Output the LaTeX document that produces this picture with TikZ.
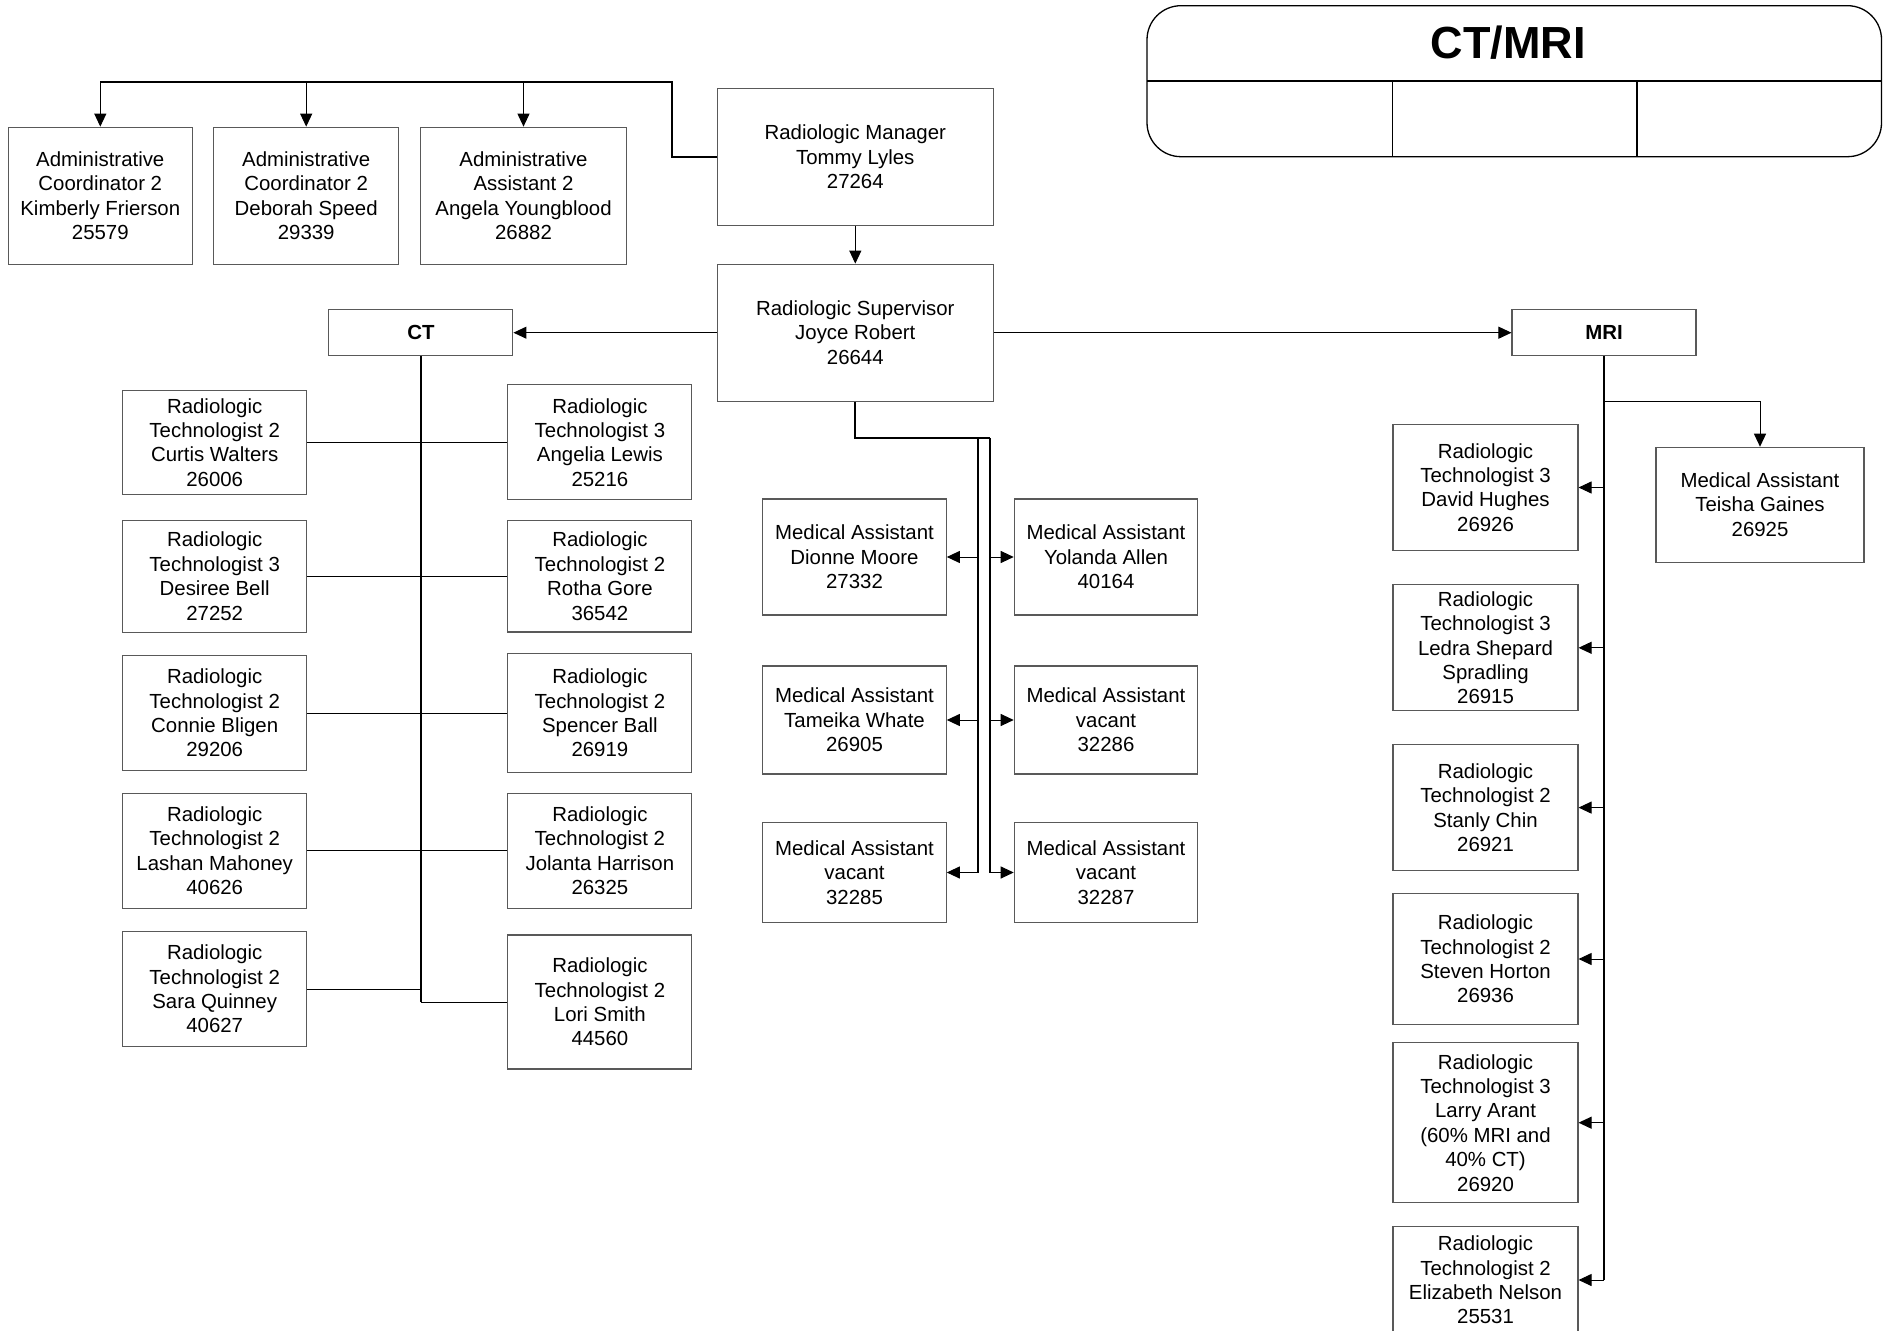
\documentclass[tikz,border=0pt]{standalone}
\usepackage{fontspec}
\setmainfont{Liberation Sans}
\usetikzlibrary{arrows.meta}
\newcommand\orgfont{\fontsize{10.2pt}{12.2pt}\selectfont}
\tikzset{
    box/.style={draw=black!65,line width=0.55pt,align=center,inner sep=0pt,font=\orgfont},
    headbox/.style={box,minimum width=137.75pt,minimum height=68.5pt},
    unitbox/.style={box,minimum width=92pt,minimum height=23pt,font=\orgfont\bfseries},
    ctbox/.style={box,minimum width=92pt},
    mabox/.style={box,minimum width=91.75pt},
    mribox/.style={box,minimum width=92.5pt},
    trunk/.style={line width=1pt},
    branch/.style={line width=0.5pt},
    arr/.style={-{Triangle[length=6.5pt,width=6pt]}}
}
\begin{document}
\begin{tikzpicture}[x=0.5pt,y=-0.5pt]
    \useasboundingbox (0,0) rectangle (1883,1331);
    \clip (0,0) rectangle (1883,1331);

    % legend
    \draw[line width=0.65pt,rounded corners=17pt] (1147,5.7) rectangle (1881.5,156.7);
    \draw[line width=0.65pt] (1147,81) -- (1881.5,81)
        (1392.6,81) -- (1392.6,156.7)
        (1637,81) -- (1637,156.7);
    \node(title) at (1508,43) {\fontsize{22.5pt}{27pt}\bfseries CT/MRI};

    % top
    \node(adm1)[box,minimum width=91.85pt,minimum height=68.5pt] at (100.3,195.7)
        {Administrative\\Coordinator 2\\Kimberly Frierson\\25579};
    \node(adm2)[box,minimum width=92.5pt,minimum height=68.5pt] at (306.2,195.7)
        {Administrative\\Coordinator 2\\Deborah Speed\\29339};
    \node(adm3)[box,minimum width=102.75pt,minimum height=68.5pt] at (523.5,195.7)
        {Administrative\\Assistant 2\\Angela Youngblood\\26882};
    \node(manager)[headbox] at (855.3,156.8) {Radiologic Manager\\Tommy Lyles\\27264};
    \node(supervisor)[headbox] at (855.3,332.7) {Radiologic Supervisor\\Joyce Robert\\26644};
    \node(ct)[unitbox] at (420.9,332.7) {CT};
    \node(mri)[unitbox] at (1604,332.7) {MRI};

    % CT staff
    \node(ctL1)[ctbox,minimum height=51.75pt] at (214.7,442.4) {Radiologic\\Technologist 2\\Curtis Walters\\26006};
    \node(ctL2)[ctbox,minimum height=56pt] at (214.7,576.2) {Radiologic\\Technologist 3\\Desiree Bell\\27252};
    \node(ctL3)[ctbox,minimum height=57.5pt] at (214.7,713) {Radiologic\\Technologist 2\\Connie Bligen\\29206};
    \node(ctL4)[ctbox,minimum height=57.25pt] at (214.7,850.8) {Radiologic\\Technologist 2\\Lashan Mahoney\\40626};
    \node(ctL5)[ctbox,minimum height=57.5pt] at (214.7,989) {Radiologic\\Technologist 2\\Sara Quinney\\40627};
    \node(ctR1)[ctbox,minimum height=57.5pt] at (599.9,442.4) {Radiologic\\Technologist 3\\Angelia Lewis\\25216};
    \node(ctR2)[ctbox,minimum height=55.75pt] at (599.9,576.2) {Radiologic\\Technologist 2\\Rotha Gore\\36542};
    \node(ctR3)[ctbox,minimum height=59.5pt] at (599.9,713) {Radiologic\\Technologist 2\\Spencer Ball\\26919};
    \node(ctR4)[ctbox,minimum height=57.25pt] at (599.9,850.8) {Radiologic\\Technologist 2\\Jolanta Harrison\\26325};
    \node(ctR5)[ctbox,minimum height=67pt] at (599.9,1002) {Radiologic\\Technologist 2\\Lori Smith\\44560};

    % medical assistants
    \node(maL1)[mabox,minimum height=58pt] at (854.5,557) {Medical Assistant\\Dionne Moore\\27332};
    \node(maL2)[mabox,minimum height=54pt] at (854.5,720) {Medical Assistant\\Tameika Whate\\26905};
    \node(maL3)[mabox,minimum height=50pt] at (854.5,872.5) {Medical Assistant\\vacant\\32285};
    \node(maR1)[mabox,minimum height=58pt] at (1106,557) {Medical Assistant\\Yolanda Allen\\40164};
    \node(maR2)[mabox,minimum height=54pt] at (1106,720) {Medical Assistant\\vacant\\32286};
    \node(maR3)[mabox,minimum height=50pt] at (1106,872.5) {Medical Assistant\\vacant\\32287};

    % MRI staff
    \node(mri1)[mribox,minimum height=63.2pt] at (1485.5,487.5) {Radiologic\\Technologist 3\\David Hughes\\26926};
    \node(mri2)[mribox,minimum height=62.9pt] at (1485.5,647.8) {Radiologic\\Technologist 3\\Ledra Shepard\\Spradling\\26915};
    \node(mri3)[mribox,minimum height=63pt] at (1485.5,807.6) {Radiologic\\Technologist 2\\Stanly Chin\\26921};
    \node(mri4)[mribox,minimum height=65.5pt] at (1485.5,959) {Radiologic\\Technologist 2\\Steven Horton\\26936};
    \node(mri5)[mribox,minimum height=80pt] at (1485.5,1122.7) {Radiologic\\Technologist 3\\Larry Arant\\(60\% MRI and\\40\% CT)\\26920};
    \node(mri6)[mribox,minimum height=53.5pt] at (1485.5,1280) {Radiologic\\Technologist 2\\Elizabeth Nelson\\25531};
    \node(teisha)[box,minimum width=104pt,minimum height=57.4pt] at (1760,504.7) {Medical Assistant\\Teisha Gaines\\26925};

    % connectors
    \coordinate (admtop) at (671.6,81.7);
    \draw[trunk] (manager.west) -| (admtop) -- (admtop -| adm1.north);
    \foreach \n in {adm1,adm2,adm3}
        \draw[branch,arr] (admtop -| \n.north) -- (\n.north);
    \draw[branch,arr] (manager.south) -- (supervisor.north);
    \draw[branch,arr] (supervisor.west) -- (ct.east);
    \draw[branch,arr] (supervisor.east) -- (mri.west);

    \draw[trunk] (ct.south) -- (ct.south |- ctR5.west);
    \foreach \i in {1,...,4}
        \draw[branch] (ctL\i.east) -- (ctR\i.west);
    \draw[branch] (ctL5.east) -- (ct.south |- ctL5.east)
        (ct.south |- ctR5.west) -- (ctR5.west);

    \coordinate (matop) at (855.3,438);
    \coordinate (maL) at (978,438);
    \coordinate (maR) at (990,438);
    \draw[trunk] (supervisor.south) -- (matop) -- (maR);
    \draw[line width=0.75pt] (maL) -- (maL |- maL3.east)
        (maR) -- (maR |- maR3.west);
    \foreach \i in {1,2,3}{
        \draw[branch,arr] (maL |- maL\i.east) -- (maL\i.east);
        \draw[branch,arr] (maR |- maR\i.west) -- (maR\i.west);
    }

    \coordinate (mrifork) at (1604,401.7);
    \draw[trunk] (mri.south) -- (mri.south |- mri6.east);
    \draw[branch,arr] (mrifork) -| (teisha.north);
    \foreach \i in {1,...,6}
        \draw[branch,arr] (mri.south |- mri\i.east) -- (mri\i.east);
\end{tikzpicture}
\end{document}
